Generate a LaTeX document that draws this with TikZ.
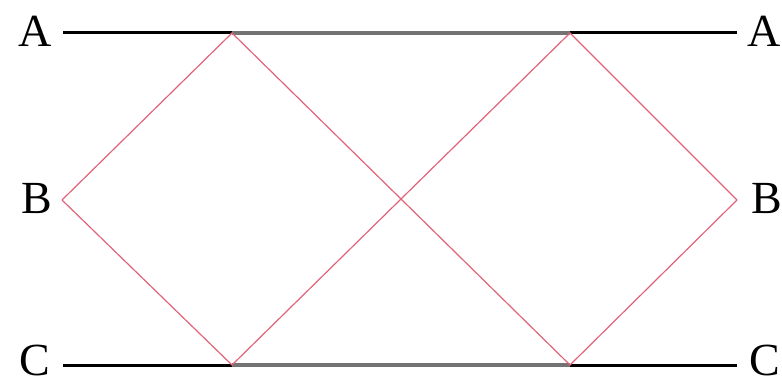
\documentclass[tikz,border=0pt]{standalone}
\usepackage{fontspec}
\setmainfont{Liberation Serif}
\usepackage{xcolor}
\usepackage{tikz}
\usetikzlibrary{positioning}
\definecolor{raypink}{RGB}{224,100,120}
\tikzset{
  % --- labels and rails --------------------------------------------------------
  lab/.style={font=\fontsize{46}{46}\selectfont,inner sep=0pt},
  rail/.style={black,line width=3pt},
  slab/.style={black!55,line width=4pt},
  % --- the zig-zag ray ---------------------------------------------------------
  ray/.style={raypink,line width=1.2pt,line join=miter},
}
\begin{document}
\begin{tikzpicture}[x=1pt, y=1pt]
  \useasboundingbox (0,0) rectangle (782,386);
  \def\ya{353}         % upper rail
  \def\yc{21}          % lower rail
  \def\yb{186}         % middle level
  \def\xl{232}         % left edge of the slab
  \def\xr{570}         % right edge of the slab

  % labels
  \node[lab] (al) at (35,\ya+2)  {A};
  \node[lab] (ar) at (764,\ya+2) {A};
  \node[lab] (bl) at (37,\yb+1)  {B};
  \node[lab] (br) at (767,\yb+1) {B};
  \node[lab] (cl) at (35,\yc+5)  {C};
  \node[lab] (cr) at (765,\yc+5) {C};

  % corners of the path
  \coordinate (tl) at (\xl,\ya);
  \coordinate (tr) at (\xr,\ya);
  \coordinate (bl0) at (\xl,\yc);
  \coordinate (br0) at (\xr,\yc);
  \coordinate (ml) at (62,\yb);
  \coordinate (mr) at (737,\yb);
  \coordinate (al0) at (63,\ya);
  \coordinate (ar0) at (737,\ya);
  \coordinate (cl0) at (63,\yc);
  \coordinate (cr0) at (737,\yc);

  % rails, grey between the two contacts
  \draw[rail] (al0) -- (tl);
  \draw[rail] (tr) -- (ar0);
  \draw[rail] (cl0) -- (bl0);
  \draw[rail] (br0) -- (cr0);
  \draw[slab] (tl) -- (tr);
  \draw[slab] (bl0) -- (br0);

  % the two crossing rays
  \draw[ray] (ml) -- (tl) -- (br0) -- (mr);
  \draw[ray] (ml) -- (bl0) -- (tr) -- (mr);
\end{tikzpicture}
\end{document}
